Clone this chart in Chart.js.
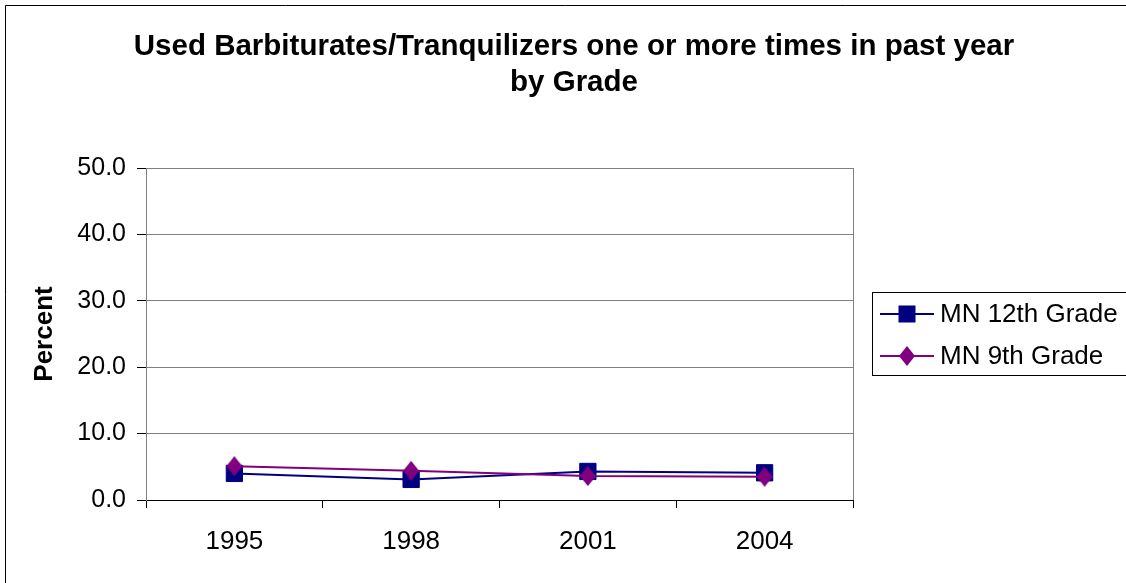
<!DOCTYPE html>
<html>
<head>
<meta charset="utf-8">
<script src="https://cdn.jsdelivr.net/npm/chart.js@4"></script>
<style>
  html, body { margin: 0; padding: 0; background: #fff; }
  #wrap { width: 1126px; height: 583px; position: relative; }
</style>
</head>
<body>
<div id="wrap"><canvas id="c" width="1126" height="583"></canvas></div>
<script>
// ---- data ----
const years = ["1995", "1998", "2001", "2004"];
const grade12 = [4.0, 3.1, 4.3, 4.1];
const grade9 = [5.1, 4.4, 3.6, 3.5];
const seriesNames = ["MN 12th Grade", "MN 9th Grade"];
const titleLines = ["Used Barbiturates/Tranquilizers one or more times in past year", "by Grade"];
const yAxisTitle = "Percent";

const FONT = "Arial, 'Liberation Sans', sans-serif";
const NAVY = "#000080";
const PURPLE = "#800080";

// custom taller diamond marker
function makeDiamond(w, h, color) {
  const c = document.createElement("canvas");
  c.width = w; c.height = h;
  const g = c.getContext("2d");
  g.fillStyle = color;
  g.beginPath();
  g.moveTo(w / 2, 0);
  g.lineTo(w, h / 2);
  g.lineTo(w / 2, h);
  g.lineTo(0, h / 2);
  g.closePath();
  g.fill();
  return c;
}
const diamond = makeDiamond(16, 20, PURPLE);

const frameAndLegend = {
  id: "frameAndLegend",
  beforeDraw(chart) {
    const ctx = chart.ctx;
    ctx.save();
    ctx.fillStyle = "#fff";
    ctx.fillRect(0, 0, chart.width, chart.height);
    ctx.restore();
  },
  afterDatasetsDraw(chart) {
    const a = chart.chartArea;
    const ctx = chart.ctx;
    ctx.save();
    ctx.strokeStyle = "#808080";
    ctx.lineWidth = 1;
    ctx.beginPath();
    ctx.moveTo(Math.round(a.right) + 0.5, a.top);
    ctx.lineTo(Math.round(a.right) + 0.5, a.bottom);
    ctx.stroke();
    ctx.restore();
  },
  afterDraw(chart) {
    const ctx = chart.ctx;
    ctx.save();
    // outer chart frame (left + top edges visible)
    ctx.strokeStyle = "#000";
    ctx.lineWidth = 1;
    ctx.beginPath();
    ctx.moveTo(5.5, chart.height);
    ctx.lineTo(5.5, 5.5);
    ctx.lineTo(chart.width, 5.5);
    ctx.stroke();
    // legend box
    ctx.strokeStyle = "#000";
    ctx.strokeRect(872.5, 292.5, 300, 83);
    const rows = [314, 356];
    chart.data.datasets.forEach((ds, i) => {
      const y = rows[i];
      ctx.strokeStyle = ds.borderColor;
      ctx.lineWidth = 2;
      ctx.beginPath();
      ctx.moveTo(880, y);
      ctx.lineTo(934, y);
      ctx.stroke();
      if (ds.pointStyle === "rect") {
        ctx.fillStyle = ds.backgroundColor;
        ctx.fillRect(898.5, y - 8.5, 17, 17);
      } else {
        ctx.drawImage(ds.pointStyle, 907 - 8, y - 10);
      }
      ctx.fillStyle = "#000";
      ctx.font = "26px " + FONT;
      ctx.textBaseline = "middle";
      ctx.textAlign = "left";
      ctx.fillText(ds.label, 940, y + 1);
    });
    ctx.restore();
  }
};

new Chart(document.getElementById("c"), {
  type: "line",
  data: {
    labels: years,
    datasets: [
      {
        label: seriesNames[0],
        data: grade12,
        borderColor: NAVY,
        backgroundColor: NAVY,
        borderWidth: 2,
        pointStyle: "rect",
        pointRadius: 11.5,
        pointBorderWidth: 1,
        pointBackgroundColor: NAVY,
        pointBorderColor: NAVY,
        tension: 0,
        order: 1
      },
      {
        label: seriesNames[1],
        data: grade9,
        borderColor: PURPLE,
        backgroundColor: PURPLE,
        borderWidth: 2,
        pointStyle: diamond,
        pointRadius: 10,
        tension: 0,
        order: 0
      }
    ]
  },
  options: {
    responsive: false,
    animation: false,
    devicePixelRatio: 1,
    layout: { padding: { left: 22, right: 0, top: 0, bottom: 0 } },
    plugins: {
      legend: { display: false },
      tooltip: { enabled: false },
      title: {
        display: true,
        text: titleLines,
        color: "#000",
        font: { family: FONT, size: 29.5, weight: "bold", lineHeight: 36 / 29.5 },
        padding: { top: 29, bottom: 67 }
      }
    },
    scales: {
      x: {
        offset: true,
        afterFit: (s) => { s.height = 83; },
        grid: {
          offset: true,
          drawOnChartArea: false,
          tickLength: 8,
          tickColor: "#000",
          color: "#000"
        },
        border: { color: "#000", width: 1 },
        ticks: {
          color: "#000",
          padding: 18,
          font: { family: FONT, size: 26 },
          maxRotation: 0
        }
      },
      y: {
        min: 0,
        max: 50,
        afterFit: (s) => { s.width = 124; },
        grid: {
          color: "#808080",
          tickColor: "#000",
          tickLength: 9,
          lineWidth: 1
        },
        border: { color: "#808080", width: 1 },
        ticks: {
          stepSize: 10,
          color: "#000",
          padding: 11,
          font: { family: FONT, size: 25 },
          callback: (v) => Number(v).toFixed(1)
        },
        title: {
          display: true,
          text: yAxisTitle,
          color: "#000",
          font: { family: FONT, size: 26, weight: "bold" },
          padding: { top: 7, bottom: 0 }
        }
      },
      // empty right-hand band reserving the legend's space
      legendSpace: {
        type: "linear",
        position: "right",
        min: 0,
        max: 50,
        afterFit: (s) => { s.width = 273; },
        grid: { drawOnChartArea: false, drawTicks: false },
        border: { display: false },
        ticks: { display: false }
      }
    }
  },
  plugins: [frameAndLegend]
});
</script>
</body>
</html>
